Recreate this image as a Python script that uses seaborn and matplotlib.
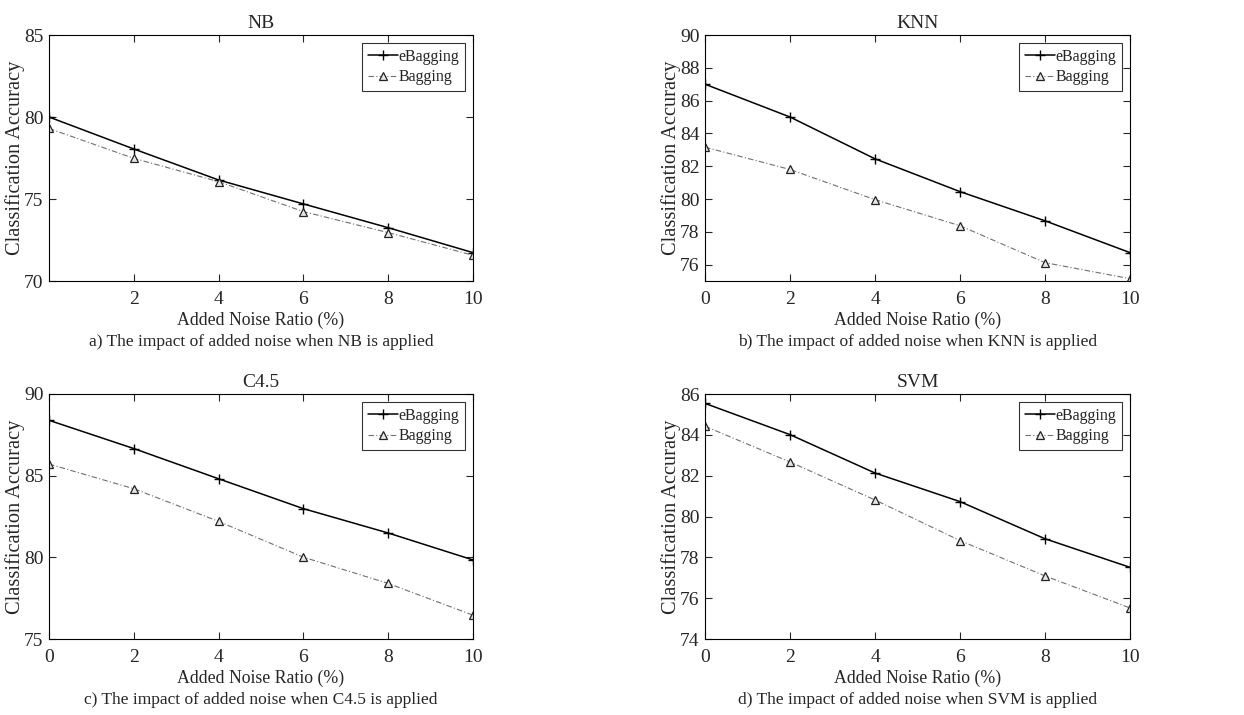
import matplotlib
matplotlib.use("Agg")
import matplotlib.pyplot as plt
import pandas as pd
import seaborn as sns

# Data
noise = [0, 2, 4, 6, 8, 10]

nb_ebagging = [80.0, 78.05, 76.16, 74.7, 73.25, 71.73]
nb_bagging = [79.3, 77.48, 76.06, 74.23, 72.95, 71.57]

knn_ebagging = [87.0, 85.0, 82.45, 80.45, 78.67, 76.73]
knn_bagging = [83.16, 81.8, 79.96, 78.37, 76.12, 75.14]

c45_ebagging = [88.39, 86.66, 84.81, 82.98, 81.49, 79.84]
c45_bagging = [85.71, 84.2, 82.2, 80.01, 78.4, 76.46]

svm_ebagging = [85.54, 84.01, 82.13, 80.73, 78.91, 77.51]
svm_bagging = [84.42, 82.67, 80.81, 78.82, 77.09, 75.52]

titles = ["NB", "KNN", "C4.5", "SVM"]
captions = [
    "a) The impact of added noise when NB is applied",
    "b) The impact of added noise when KNN is applied",
    "c) The impact of added noise when C4.5 is applied",
    "d) The impact of added noise when SVM is applied",
]
ylims = [(70, 85), (75, 90), (75, 90), (74, 86)]
yticks = [
    [70, 75, 80, 85],
    [76, 78, 80, 82, 84, 86, 88, 90],
    [75, 80, 85, 90],
    [74, 76, 78, 80, 82, 84, 86],
]
xticks = [[2, 4, 6, 8, 10], [0, 2, 4, 6, 8, 10], [0, 2, 4, 6, 8, 10], [0, 2, 4, 6, 8, 10]]
series = [
    (nb_ebagging, nb_bagging),
    (knn_ebagging, knn_bagging),
    (c45_ebagging, c45_bagging),
    (svm_ebagging, svm_bagging),
]

sns.set_style("ticks")
plt.rcParams["font.family"] = ["Liberation Serif", "DejaVu Serif"]

W, H = 1244, 715
fig = plt.figure(figsize=(W / 100, H / 100), dpi=100)

# axes boxes in pixels: left, top, right, bottom
boxes = [(49, 35, 473, 281), (705, 35, 1130, 281), (49, 394, 473, 639), (705, 394, 1130, 639)]

for i, (l, t, r, b) in enumerate(boxes):
    ax = fig.add_axes([l / W, 1 - b / H, (r - l) / W, (b - t) / H])
    eb, bg = series[i]
    df = pd.DataFrame({"noise": noise, "eBagging": eb, "Bagging": bg})

    sns.lineplot(data=df, x="noise", y="eBagging", ax=ax, color="black",
                 linewidth=1.1, marker="+", markersize=6.5, markeredgewidth=1.0,
                 markeredgecolor="black", label="eBagging")
    sns.lineplot(data=df, x="noise", y="Bagging", ax=ax, color="#707070",
                 linewidth=0.8, linestyle=(0, (5, 2, 1, 2)), marker="^",
                 markersize=6, markerfacecolor="#e6e6e6",
                 markeredgecolor="#222222", markeredgewidth=0.9,
                 label="Bagging")

    ax.set_xlim(0, 10)
    ax.set_ylim(*ylims[i])
    ax.set_xticks(xticks[i])
    ax.set_yticks(yticks[i])
    ax.tick_params(direction="in", top=True, right=True, length=5,
                   width=0.8, labelsize=14, pad=4)
    ax.tick_params(axis="x", pad=7)
    for sp in ax.spines.values():
        sp.set_linewidth(0.8)
        sp.set_color("black")

    ax.set_title(titles[i], fontsize=14, pad=5)
    ax.set_xlabel("Added Noise Ratio (%)", fontsize=12.8, labelpad=3)
    ax.set_ylabel("Classification Accuracy", fontsize=14.7)
    ax.yaxis.set_label_coords(-24 / (r - l), 0.5)
    ax.text(0.5, -(342 - 281) / 246, captions[i], transform=ax.transAxes,
            ha="center", va="center", fontsize=12.5)

    leg = ax.legend(loc="upper right", fontsize=11.5, frameon=True, fancybox=False,
                    borderaxespad=0.5, handlelength=1.9, handletextpad=0.05,
                    borderpad=0.35, labelspacing=0.3)
    leg.get_frame().set_edgecolor("black")
    leg.get_frame().set_linewidth(0.8)

fig.savefig("out.png", dpi=100)
